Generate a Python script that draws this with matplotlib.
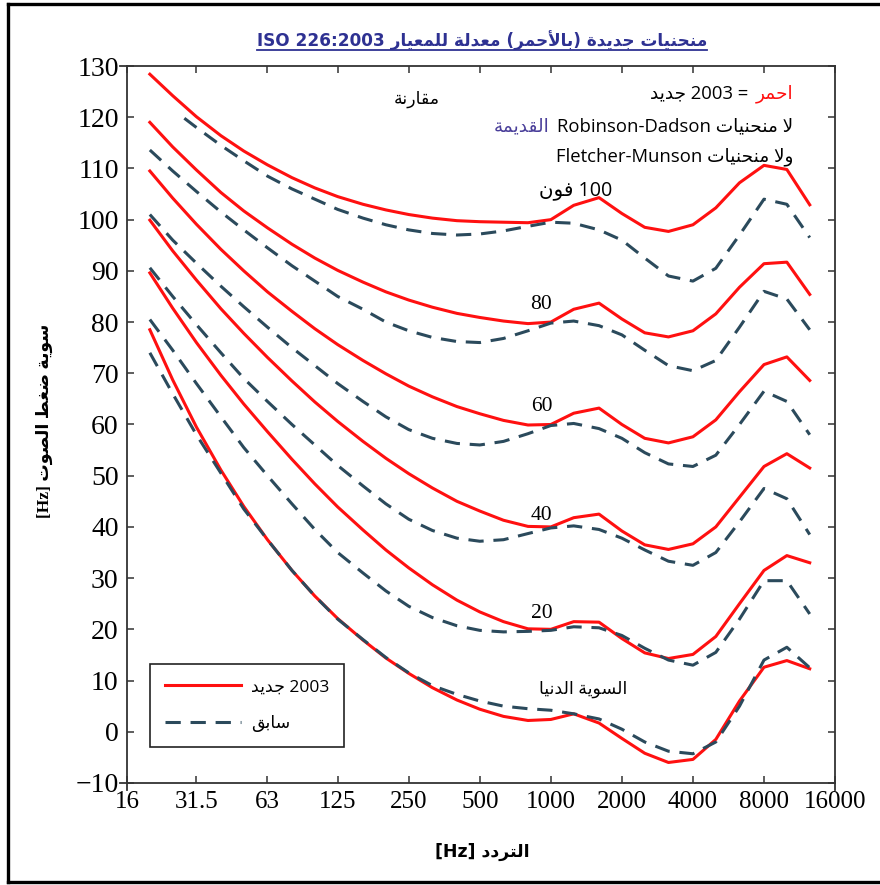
import matplotlib
matplotlib.use('Agg')
import matplotlib.pyplot as plt
from matplotlib.lines import Line2D
from matplotlib.offsetbox import TextArea, HPacker, AnnotationBbox

# third-octave frequencies [Hz]
freqs = [20, 25, 31.5, 40, 50, 63, 80, 100, 125, 160, 200, 250, 315, 400, 500,
         630, 800, 1000, 1250, 1600, 2000, 2500, 3150, 4000, 5000, 6300, 8000,
         10000, 12500]

# ISO 226:2003 contours (red)
iso_thr = [78.5, 68.7, 59.5, 51.1, 44.0, 37.5, 31.5, 26.5, 22.1, 17.9, 14.4, 11.4,
           8.6, 6.2, 4.4, 3.0, 2.2, 2.4, 3.5, 1.7, -1.3, -4.2, -6.0, -5.4, -1.5,
           6.0, 12.6, 13.9, 12.3]
iso_20 = [89.6, 82.7, 76.0, 69.6, 64.0, 58.6, 53.2, 48.4, 43.9, 39.4, 35.5, 32.0,
          28.7, 25.7, 23.4, 21.5, 20.1, 20.0, 21.5, 21.4, 18.2, 15.4, 14.3, 15.1,
          18.6, 25.0, 31.5, 34.4, 33.0]
iso_40 = [99.9, 93.9, 88.2, 82.6, 77.8, 73.1, 68.5, 64.4, 60.6, 56.7, 53.4, 50.4,
          47.6, 45.0, 43.1, 41.3, 40.1, 40.0, 41.8, 42.5, 39.2, 36.5, 35.6, 36.7,
          40.0, 45.8, 51.8, 54.3, 51.5]
iso_60 = [109.5, 104.2, 99.1, 94.2, 90.0, 85.9, 82.1, 78.7, 75.6, 72.5, 69.9, 67.5,
          65.4, 63.5, 62.1, 60.8, 59.9, 60.0, 62.2, 63.2, 60.0, 57.3, 56.4, 57.6,
          60.9, 66.4, 71.7, 73.2, 68.6]
iso_80 = [119.0, 114.2, 109.7, 105.3, 101.7, 98.4, 95.2, 92.5, 90.1, 87.8, 85.9, 84.3,
          82.9, 81.7, 80.9, 80.2, 79.7, 80.0, 82.5, 83.7, 80.6, 77.9, 77.1, 78.3,
          81.6, 86.8, 91.4, 91.7, 85.4]
iso_100 = [128.4, 124.2, 120.1, 116.4, 113.4, 110.7, 108.2, 106.2, 104.5, 103.0, 101.9,
           101.0, 100.3, 99.8, 99.6, 99.5, 99.4, 100.0, 102.8, 104.3, 101.2, 98.5,
           97.7, 99.0, 102.3, 107.2, 110.6, 109.8, 102.9]

# older Robinson-Dadson contours (dashed)
old_freqs_100 = [28, 31.5, 40, 50, 63, 80, 100, 125, 160, 200, 250, 315, 400, 500,
                 630, 800, 1000, 1250, 1600, 2000, 2500, 3150, 4000, 5000, 6300,
                 8000, 10000, 12500]
old_100 = [119.8, 118.0, 114.5, 111.5, 108.5, 106.0, 104.0, 102.0, 100.3, 99.0, 98.0,
           97.3, 97.0, 97.2, 97.8, 98.7, 99.5, 99.3, 98.0, 96.0, 92.5, 89.0, 88.0,
           90.5, 97.0, 104.0, 103.0, 96.5]
old_80 = [113.6, 109.5, 105.5, 101.5, 98.0, 94.5, 91.0, 88.0, 85.0, 82.5, 80.0, 78.3,
          77.0, 76.2, 76.0, 76.8, 78.3, 79.8, 80.2, 79.3, 77.5, 74.5, 71.5, 70.5,
          72.5, 79.0, 86.0, 84.5, 78.5]
old_60 = [101.0, 96.0, 91.5, 87.0, 83.0, 79.0, 75.0, 71.5, 68.0, 64.5, 61.5, 59.0,
          57.3, 56.3, 56.0, 56.7, 58.2, 59.8, 60.2, 59.2, 57.3, 54.5, 52.3, 51.8,
          54.0, 60.0, 66.5, 64.5, 58.0]
old_40 = [90.6, 85.0, 79.5, 74.0, 69.0, 64.5, 60.0, 56.0, 52.0, 48.0, 44.5, 41.5,
          39.3, 37.8, 37.2, 37.5, 38.7, 39.8, 40.2, 39.5, 37.8, 35.5, 33.3, 32.5,
          35.0, 41.0, 47.5, 45.5, 38.5]
old_20 = [80.5, 74.5, 68.0, 61.5, 55.5, 50.0, 44.5, 39.5, 35.0, 31.0, 27.5, 24.5,
          22.3, 20.7, 19.8, 19.5, 19.6, 19.8, 20.5, 20.3, 18.8, 16.3, 14.0, 13.0,
          15.5, 22.0, 29.5, 29.5, 23.0]
old_thr = [74.0, 66.0, 58.0, 50.5, 43.5, 37.5, 31.5, 26.5, 22.0, 18.0, 14.5, 11.5,
           9.0, 7.3, 6.0, 5.0, 4.5, 4.2, 3.5, 2.5, 0.5, -2.0, -3.8, -4.3, -2.0, 5.0,
           14.0, 16.5, 12.5]

xtick_vals = [16, 31.5, 63, 125, 250, 500, 1000, 2000, 4000, 8000, 16000]
xtick_labels = ['16', '31.5', '63', '125', '250', '500', '1000', '2000', '4000',
                '8000', '16000']

RED = '#ff1010'
OLD = '#2b4a5c'
TITLE_BLUE = '#2e3192'

# --- minimal Arabic shaping (matplotlib has no bidi/shaping) ---
FORMS = {
    'ا': ('\ufe8d', '\ufe8e', None, None), 'أ': ('\ufe83', '\ufe84', None, None),
    'ب': ('\ufe8f', '\ufe90', '\ufe91', '\ufe92'), 'ة': ('\ufe93', '\ufe94', None, None),
    'ت': ('\ufe95', '\ufe96', '\ufe97', '\ufe98'), 'ج': ('\ufe9d', '\ufe9e', '\ufe9f', '\ufea0'),
    'ح': ('\ufea1', '\ufea2', '\ufea3', '\ufea4'), 'د': ('\ufea9', '\ufeaa', None, None),
    'ر': ('\ufead', '\ufeae', None, None), 'س': ('\ufeb1', '\ufeb2', '\ufeb3', '\ufeb4'),
    'ص': ('\ufeb9', '\ufeba', '\ufebb', '\ufebc'), 'ض': ('\ufebd', '\ufebe', '\ufebf', '\ufec0'),
    'ط': ('\ufec1', '\ufec2', '\ufec3', '\ufec4'), 'ع': ('\ufec9', '\ufeca', '\ufecb', '\ufecc'),
    'غ': ('\ufecd', '\ufece', '\ufecf', '\ufed0'), 'ف': ('\ufed1', '\ufed2', '\ufed3', '\ufed4'),
    'ق': ('\ufed5', '\ufed6', '\ufed7', '\ufed8'), 'ل': ('\ufedd', '\ufede', '\ufedf', '\ufee0'),
    'م': ('\ufee1', '\ufee2', '\ufee3', '\ufee4'), 'ن': ('\ufee5', '\ufee6', '\ufee7', '\ufee8'),
    'و': ('\ufeed', '\ufeee', None, None), 'ي': ('\ufef1', '\ufef2', '\ufef3', '\ufef4'),
    'لا': ('\ufefb', '\ufefc', None, None), 'لأ': ('\ufef7', '\ufef8', None, None),
}
MIRROR = {'(': ')', ')': '(', '[': ']', ']': '['}


def shape_word(w):
    chars, i = [], 0
    while i < len(w):
        if w[i] == 'ل' and i + 1 < len(w) and w[i + 1] in 'اأ':
            chars.append(w[i:i + 2])
            i += 2
        else:
            chars.append(w[i])
            i += 1
    out = []
    for k, c in enumerate(chars):
        f = FORMS.get(c)
        if f is None:
            out.append(MIRROR.get(c, c))
            continue
        prev = chars[k - 1] if k > 0 else None
        nxt = chars[k + 1] if k + 1 < len(chars) else None
        jp = prev in FORMS and FORMS[prev][2] is not None
        jn = nxt in FORMS and f[2] is not None
        out.append(f[3] if jp and jn else f[1] if jp else f[2] if jn else f[0])
    return ''.join(out[::-1])


def is_arabic(tok):
    return any('\u0600' <= ch <= '\u06ff' for ch in tok)


def is_ltr(tok):
    return not is_arabic(tok) and any(ch.isalnum() for ch in tok)


def ar(text):
    """logical Arabic text -> visual string (RTL paragraph)"""
    groups = []
    prev_ltr = False
    for tok in text.split(' '):
        if is_arabic(tok):
            groups.append([shape_word(tok)])
            prev_ltr = False
        elif is_ltr(tok):
            if prev_ltr:
                groups[-1].append(tok)
            else:
                groups.append([tok])
            prev_ltr = True
        else:
            groups.append([tok])
            prev_ltr = False
    return ' '.join(' '.join(g) for g in groups[::-1])


SANS = ['Open Sans', 'DejaVu Sans']
SERIF = ['Liberation Serif', 'DejaVu Sans']

fig = plt.figure(figsize=(8.8, 8.85), dpi=100)
ax = fig.add_axes([0.1443, 0.1153, 0.8046, 0.8101])

curves_new = [iso_100, iso_80, iso_60, iso_40, iso_20, iso_thr]
curves_old = [old_100, old_80, old_60, old_40, old_20, old_thr]
for vals in curves_new:
    ax.plot(freqs, vals, color=RED, lw=2.2, solid_joinstyle='round')
for vals in curves_old:
    f = old_freqs_100 if len(vals) == len(old_freqs_100) else freqs
    ax.plot(f, vals, color=OLD, lw=2.2, dashes=(5, 3.2))

ax.set_xscale('log', base=2)
ax.set_xlim(16, 16000)
ax.set_ylim(-10, 130)
ax.set_xticks(xtick_vals)
ax.set_xticklabels(xtick_labels)
ax.minorticks_off()
yvals = list(range(-10, 131, 10))
ax.set_yticks(yvals)
ax.set_yticklabels(['\u221210' if v < 0 else str(v) for v in yvals])
ax.tick_params(direction='in', length=5, width=1.1, color='#333333',
               top=True, right=True, pad=6)
ax.tick_params(axis='y', labelsize=20)
ax.tick_params(axis='x', labelsize=18)
for lab in ax.get_xticklabels() + ax.get_yticklabels():
    lab.set_family(SERIF)
for sp in ax.spines.values():
    sp.set_color('#333333')
    sp.set_linewidth(1.3)

# small spine overhangs at the corners
ext_x, ext_y = 0.0099, 0.0098
for xs, ys in [((0, 0), (0, -ext_y)), ((-ext_x, 0), (0, 0)),
               ((1, 1), (0, -ext_y)), ((-ext_x, 0), (1, 1))]:
    ax.add_line(Line2D(xs, ys, transform=ax.transAxes, color='#333333',
                       lw=1.3, clip_on=False))

# contour labels
ax.text(1270, 105.8, ar('100 فون'), family=SANS, fontsize=14.2, ha='center', va='center')
for val, yv in [('80', 83.5), ('60', 63.6), ('40', 42.3), ('20', 23.0)]:
    ax.text(912, yv, val, family=SERIF, fontsize=15.5, ha='center', va='center')
ax.text(1376, 8.2, ar('السوية الدنيا'), family=SANS, fontsize=12.5,
        ha='center', va='center')
ax.text(0.4096, 0.954, ar('مقارنة'), transform=ax.transAxes, family=SANS,
        fontsize=12.5, ha='center', va='center')


def rich_line(parts, xy, size=13.3):
    # parts are given in visual order, left to right
    boxes = [TextArea(txt, textprops=dict(color=c, family=SANS, fontsize=size))
             for txt, c in parts]
    pack = HPacker(children=boxes, align='baseline', pad=0, sep=5)
    ab = AnnotationBbox(pack, xy, xycoords='axes fraction', box_alignment=(1, 0.5),
                        frameon=False, pad=0)
    ax.add_artist(ab)


rich_line([(ar('2003 جديد') + ' =', 'black'), (ar('احمر'), RED)], (0.9407, 0.962))
rich_line([(ar('القديمة'), '#4a3f9a'), (ar('لا منحنيات Robinson-Dadson'), 'black')],
          (0.9407, 0.916))
rich_line([(ar('ولا منحنيات Fletcher-Munson'), 'black')], (0.9407, 0.873))

# legend
handles = [Line2D([], [], color=RED, lw=2.2),
           Line2D([], [], color=OLD, lw=2.2, dashes=(5, 3.2))]
leg = ax.legend(handles, [ar('2003 جديد'), ar('سابق')], loc='lower left',
                bbox_to_anchor=(0.0325, 0.05), borderaxespad=0,
                prop=dict(family=SANS, size=12.5),
                handlelength=4.4, handletextpad=0.55, borderpad=0.85,
                labelspacing=1.15, fancybox=False, framealpha=1)
leg.get_frame().set_edgecolor('#222222')
leg.get_frame().set_linewidth(1.2)

# axis labels
fig.text(0.548, 0.037, ar('التردد [Hz]'), family=['DejaVu Sans'], fontweight='bold',
         fontsize=12.5, ha='center', va='center')
fig.text(0.051, 0.525, ar('سوية ضغط الصوت [Hz]'), family=SERIF, fontweight='bold',
         fontsize=12.5, ha='center', va='center', rotation=90)

# underlined title
title = fig.text(0.548, 0.954, ar('منحنيات جديدة (بالأحمر) معدلة للمعيار ISO 226:2003'),
                 family=['DejaVu Sans'], fontweight='bold', fontsize=12.2,
                 color=TITLE_BLUE, ha='center', va='center')
renderer = fig.canvas.get_renderer()
bb = title.get_window_extent(renderer).transformed(fig.transFigure.inverted())
fig.add_artist(Line2D([bb.x0, bb.x1], [bb.y0 + 0.001] * 2, transform=fig.transFigure,
                      color=TITLE_BLUE, lw=1.3))

# outer frame
for xs, ys in [((0.009, 0.009), (0.003, 0.995)), ((0.009, 1), (0.995, 0.995)),
               ((0.009, 1), (0.003, 0.003))]:
    fig.add_artist(Line2D(xs, ys, transform=fig.transFigure, color='black', lw=2.4))

fig.savefig('out.png', dpi=100)
